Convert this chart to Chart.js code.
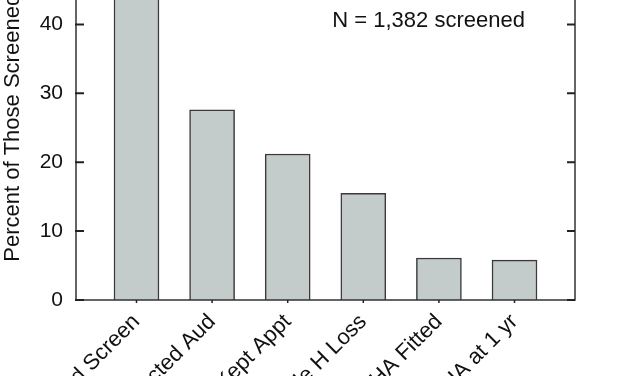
<!DOCTYPE html>
<html>
<head>
<meta charset="utf-8">
<script src="https://cdn.jsdelivr.net/npm/chart.js@4.4.1/dist/chart.umd.min.js"></script>
<style>
  html, body { margin: 0; padding: 0; background: #fff; overflow: hidden; width: 627px; height: 376px; }
  #wrap { position: absolute; left: 0; top: -70px; width: 627px; height: 570px; }
</style>
</head>
<body>
<div id="wrap"><canvas id="chart"></canvas></div>
<script>
// Data
const categories = ['Failed Screen', 'Contacted Aud', 'Kept Appt', 'Probable H Loss', 'HA Fitted', 'Using HA at 1 yr'];
const percents = [46, 27.6, 21.2, 15.5, 6.1, 5.8];
const yTicks = [0, 10, 20, 30, 40, 50];
const noteText = 'N = 1,382 screened';

const FONT = "'Liberation Sans', Arial, sans-serif";
Chart.defaults.font.family = FONT;
Chart.defaults.color = '#111';

// frame, inward ticks and the N note
const framePlugin = {
  id: 'frame',
  afterDraw(chart) {
    const { ctx, chartArea: a, scales } = chart;
    ctx.save();
    ctx.strokeStyle = '#333';
    ctx.lineWidth = 1.5;
    ctx.strokeRect(a.left, a.top, a.right - a.left, a.bottom - a.top);

    ctx.lineWidth = 2;
    ctx.strokeStyle = '#222';
    yTicks.forEach(v => {
      const y = scales.y.getPixelForValue(v);
      ctx.beginPath();
      ctx.moveTo(a.left - 1, y); ctx.lineTo(a.left + 8, y);
      ctx.moveTo(a.right - 8, y); ctx.lineTo(a.right, y);
      ctx.stroke();
    });
    ctx.lineWidth = 1.5;
    categories.forEach((c, i) => {
      const x = scales.x.getPixelForValue(i + 1);
      ctx.beginPath();
      ctx.moveTo(x, a.bottom); ctx.lineTo(x, a.bottom + 3);
      ctx.stroke();
    });

    ctx.fillStyle = '#111';
    ctx.font = '22px ' + FONT;
    ctx.textAlign = 'left';
    ctx.textBaseline = 'alphabetic';
    ctx.fillText(noteText, scales.x.getPixelForValue(3.59), scales.y.getPixelForValue(39.6));
    ctx.restore();
  }
};

new Chart(document.getElementById('chart'), {
  type: 'bar',
  data: {
    datasets: [{
      data: percents.map((v, i) => ({ x: i + 1, y: v })),
      backgroundColor: '#c4cbcb',
      borderColor: '#3a3a3a',
      borderWidth: 1.5,
      barThickness: 45
    }]
  },
  options: {
    responsive: true,
    maintainAspectRatio: false,
    animation: false,
    layout: { padding: { top: 20, right: 52, left: 0, bottom: 0 } },
    plugins: { legend: { display: false }, tooltip: { enabled: false } },
    scales: {
      x: {
        type: 'linear',
        min: 0.2, max: 6.8,
        offset: false,
        grid: { display: false, drawTicks: false },
        border: { display: false },
        afterBuildTicks: s => { s.ticks = categories.map((c, i) => ({ value: i + 1 })); },
        afterFit: s => { s.height = 200; },
        ticks: {
          autoSkip: false,
          minRotation: 45, maxRotation: 45,
          padding: 9,
          font: { size: 22 },
          callback: v => categories[v - 1]
        }
      },
      y: {
        min: 0, max: 50,
        grid: { display: false, drawTicks: false },
        border: { display: false },
        afterFit: s => { s.width = 76; },
        ticks: { stepSize: 10, padding: 13, font: { size: 21 } },
        title: {
          display: true,
          text: 'Percent of Those Screened',
          font: { size: 22 },
          padding: 0
        }
      }
    }
  },
  plugins: [framePlugin]
});
</script>
</body>
</html>
